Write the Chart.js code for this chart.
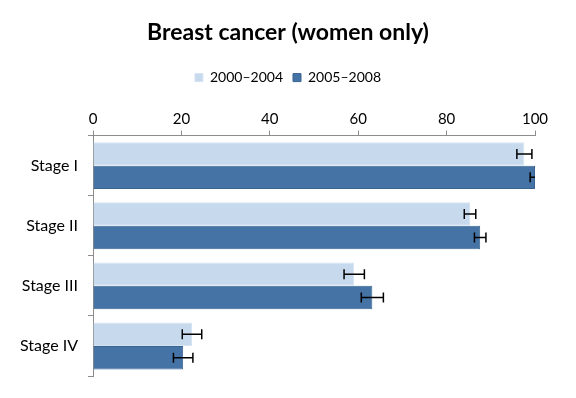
<!DOCTYPE html>
<html>
<head>
<meta charset="utf-8">
<script src="https://cdn.jsdelivr.net/npm/chart.js@4"></script>
<style>
  html, body { margin: 0; padding: 0; background: #fff; }
  #wrap { width: 576px; height: 398px; position: relative; }
</style>
</head>
<body>
<div id="wrap"><canvas id="stageChart"></canvas></div>
<script>
// --- data ---
const stages = ['Stage I', 'Stage II', 'Stage III', 'Stage IV'];
const seriesNames = ['2000–2004', '2005–2008'];
const survivalEarly = [97.6, 85.3, 59.1, 22.4];
const survivalLate = [100, 87.6, 63.2, 20.4];
const errEarly = [1.7, 1.3, 2.3, 2.2];
const errLate = [1.1, 1.3, 2.5, 2.2];
const xTicks = [0, 20, 40, 60, 80, 100];

const FONT = "Lato, 'Open Sans', sans-serif";

// draws horizontal error bars through the x scale, clipped to the plot
const errorBars = {
    id: 'errorBars',
    afterDatasetsDraw(chart) {
        const { ctx, chartArea, scales } = chart;
        ctx.save();
        ctx.beginPath();
        ctx.rect(chartArea.left, chartArea.top - 1, chartArea.right - chartArea.left, chartArea.bottom - chartArea.top + 2);
        ctx.clip();
        ctx.strokeStyle = '#000';
        ctx.lineWidth = 1.5;
        chart.data.datasets.forEach((ds, i) => {
            const meta = chart.getDatasetMeta(i);
            meta.data.forEach((bar, j) => {
                const v = ds.data[j];
                const e = ds.errors[j];
                const x1 = scales.x.getPixelForValue(v - e);
                const x2 = scales.x.getPixelForValue(v + e);
                const y = bar.y;
                const cap = 5;
                ctx.beginPath();
                ctx.moveTo(x1, y); ctx.lineTo(x2, y);
                ctx.moveTo(x1, y - cap); ctx.lineTo(x1, y + cap);
                ctx.moveTo(x2, y - cap); ctx.lineTo(x2, y + cap);
                ctx.stroke();
            });
        });
        ctx.restore();
    }
};

new Chart(document.getElementById('stageChart'), {
    type: 'bar',
    data: {
        labels: stages,
        datasets: [
            {
                label: seriesNames[0],
                data: survivalEarly,
                errors: errEarly,
                backgroundColor: '#c6d9ed',
                borderColor: '#d6e3f1',
                borderWidth: 1,
                categoryPercentage: 0.78,
                barPercentage: 1.0
            },
            {
                label: seriesNames[1],
                data: survivalLate,
                errors: errLate,
                backgroundColor: '#4573a5',
                borderColor: '#3a6593',
                borderWidth: 1,
                categoryPercentage: 0.78,
                barPercentage: 1.0
            }
        ]
    },
    options: {
        indexAxis: 'y',
        responsive: true,
        maintainAspectRatio: false,
        animation: false,
        layout: { padding: { left: 0, right: 0, top: 0, bottom: 22 } },
        plugins: {
            title: {
                display: true,
                text: 'Breast cancer (women only)',
                color: '#000',
                font: { family: FONT, size: 23, weight: 'bold' },
                padding: { top: 19, bottom: 14 }
            },
            legend: {
                position: 'top',
                labels: {
                    color: '#000',
                    font: { family: FONT, size: 14 },
                    boxWidth: 8,
                    boxHeight: 8,
                    padding: 10
                }
            },
            tooltip: { enabled: false }
        },
        scales: {
            x: {
                position: 'top',
                min: 0,
                max: 100,
                afterBuildTicks: (axis) => { axis.ticks = xTicks.map(v => ({ value: v })); },
                afterFit: (axis) => { axis.height += 14; },
                ticks: { color: '#000', font: { family: FONT, size: 15 }, padding: 2 },
                grid: { drawOnChartArea: false, tickLength: 5, color: '#8c8c8c' },
                border: { color: '#8c8c8c' }
            },
            y: {
                afterFit: (axis) => { axis.width = 93; },
                ticks: { color: '#000', font: { family: FONT, size: 16 }, padding: 10 },
                grid: { drawOnChartArea: false, offset: true, tickLength: 5, color: '#8c8c8c' },
                border: { color: '#8c8c8c' }
            },
            // empty spacer on the right so title and legend stay centred on the page
            spacer: {
                axis: 'y',
                type: 'linear',
                position: 'right',
                afterFit: (axis) => { axis.width = 41; },
                ticks: { display: false },
                grid: { display: false },
                border: { display: false }
            }
        }
    },
    plugins: [errorBars]
});
</script>
</body>
</html>
